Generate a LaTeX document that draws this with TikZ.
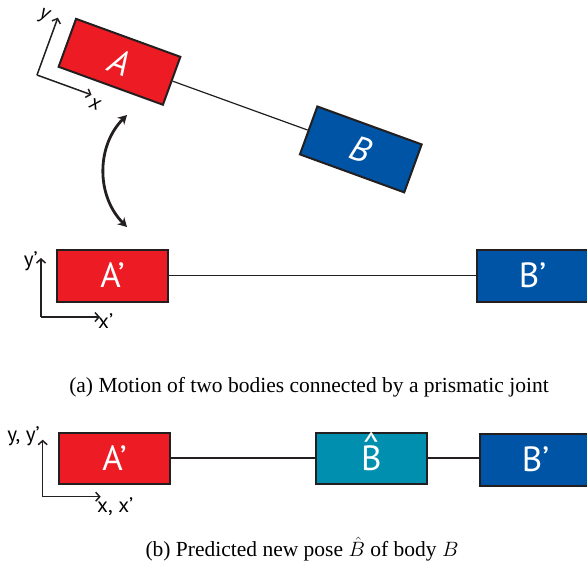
\documentclass[tikz,border=0pt]{standalone}
\usepackage{fontspec}
\setmainfont{Liberation Serif}
\setsansfont{PT Sans}
\usetikzlibrary{arrows.meta,positioning}
\definecolor{bodyRed}{HTML}{ED1C24}
\definecolor{bodyBlue}{HTML}{0054A6}
\definecolor{bodyTeal}{HTML}{008FAE}
\definecolor{edgeGray}{HTML}{231F20}
\begin{document}
\begin{tikzpicture}[x=1pt,y=-1pt,body/.style={draw=edgeGray,line width=2pt,minimum width=111pt,minimum height=51pt,inner sep=0pt,text=white,font=\sffamily\fontsize{35}{40}\selectfont},link/.style={draw=edgeGray,line width=1.2pt},axis/.style={->,draw=edgeGray,line width=1.5pt},lbl/.style={font=\sffamily\fontsize{21}{24}\selectfont,inner sep=0pt},subcap/.style={font=\fontsize{21.5}{25}\selectfont},swing/.style={{Stealth[length=9pt,width=10pt]}-{Stealth[length=9pt,width=10pt]},draw=edgeGray,line width=2.8pt},>={Straight Barb[length=4pt,width=9pt]}]
\useasboundingbox (0,0) rectangle (587,566);
% (a) bodies before and after the motion
\node[body,fill=bodyRed,rotate=-20] (A) at (119.5,61.8) {\itshape A};
\node[body,fill=bodyBlue,rotate=-20] (B) at (360.8,149.4) {\itshape B};
\draw[link] (A.east)--(B.west);
\coordinate (oA) at (37,75);
\draw[axis] (oA)--++(20:58) coordinate (xA);
\draw[axis] (oA)--++(-70:61) coordinate (yA);
\node[lbl,rotate=-20] (yAl) at (44,16) {\itshape y};
\node[lbl,rotate=-20] (xAl) at (95,104) {\itshape x};
\coordinate (swTop) at (127,115);
\coordinate (swBot) at (127,227);
\draw[swing] (swTop) to[bend right=45] (swBot);
\node[body,fill=bodyRed,minimum height=52pt] (Ap) at (112.5,275.5) {A’};
\node[body,fill=bodyBlue,minimum height=52pt] (Bp) at (532.5,275.5) {B’};
\draw[link] (Ap)--(Bp);
\coordinate (oP) at (41,317);
\draw[axis] (oP)--++(0,-59) coordinate (yP);
\draw[axis] (oP)--++(59,0) coordinate (xP);
\node[lbl,anchor=base east] (yPl) at (38,266) {y’};
\node[lbl,anchor=base west] (xPl) at (98,328) {x’};
\node[subcap] (capA) at (309,387) {(a) Motion of two bodies connected by a prismatic joint};
% (b) predicted pose
\node[body,fill=bodyRed] (Aq) at (114.5,458) {A’};
\node[body,fill=bodyTeal] (Bh) at (371.3,458) {\ooalign{B\cr\hidewidth\smash{\raisebox{13pt}{\char"5E}}\hidewidth\cr}};
\node[body,fill=bodyBlue,minimum height=52pt] (Bq) at (535.5,459.5) {B’};
\draw[link] (Aq)--(Bh);
\draw[link] (Bh.east)--(Bh.east-|Bq.west);
\coordinate (oQ) at (42.7,496.7);
\draw[axis] (oQ)--++(0,-57) coordinate (yQ);
\draw[axis] (oQ)--++(58,0) coordinate (xQ);
\node[lbl,anchor=base east] (yQl) at (40,441) {y, y’};
\node[lbl,anchor=base west] (xQl) at (97,512) {x, x’};
\node[subcap] (capB) at (302,549) {(b) Predicted new pose $\hat{B}$ of body $B$};
\end{tikzpicture}
\end{document}
